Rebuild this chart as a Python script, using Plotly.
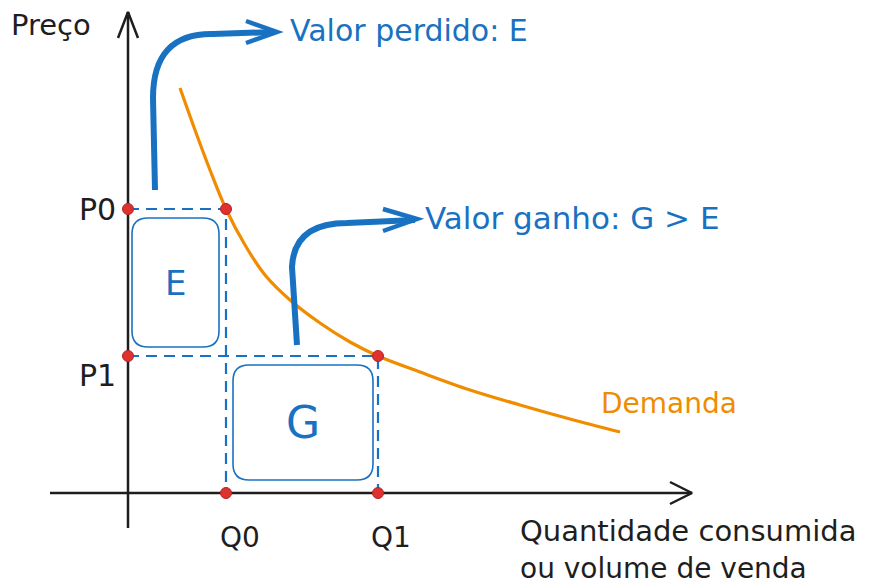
import plotly.graph_objects as go

# ---- data (origin = where the axes cross; x right, y up) ----
quant_labels = ["Q0", "Q1"]
quant_values = [98, 250]
price_labels = ["P0", "P1"]
price_values = [284, 137]

demand_q = [52, 67, 82, 98, 117, 137, 162, 192, 222, 250, 292, 342, 392, 442, 492]
demand_p = [405, 363, 323, 284, 248, 218, 193, 170, 151, 137, 121, 103, 88, 74, 61]

# area boxes: (label, x0, y0, x1, y1)
box_E = ["E", 4, 146, 91, 275]
box_G = ["G", 105, 13, 245, 128]

# axes extents
x_axis = [-78, 564]
y_axis = [-35, 481]

# callout arrows (path points) and their texts
arrow1 = [(27, 303), (25, 395), (25, 460), (85, 459), (147, 461)]
arrow1_head = [(118, 472), (149, 461), (118, 450)]
arrow2 = [(169, 148), (164, 226), (166, 270), (219, 270), (287, 273)]
arrow2_head = [(255, 284), (289, 274), (255, 262)]
callout_texts = ["Valor perdido: E", "Valor ganho: G > E"]

BLUE = "#1971c2"
ORANGE = "#f08c00"
RED = "#e03131"
BLACK = "#1e1e1e"
FONT = "DejaVu Sans"

fig = go.Figure()

# dashed guides
for q, p in zip(quant_values, price_values):
    fig.add_trace(go.Scatter(x=[0, q, q], y=[p, p, 0], mode="lines",
                             line=dict(color=BLUE, width=2.2, dash="11px,7px"),
                             hoverinfo="skip", showlegend=False))

# axes
fig.add_trace(go.Scatter(x=x_axis, y=[0, 0], mode="lines",
                         line=dict(color=BLACK, width=2.5), hoverinfo="skip", showlegend=False))
fig.add_trace(go.Scatter(x=[0, 0], y=y_axis, mode="lines",
                         line=dict(color=BLACK, width=2.5), hoverinfo="skip", showlegend=False))
fig.add_trace(go.Scatter(x=[x_axis[1] - 22, x_axis[1], x_axis[1] - 22], y=[11, 0, -11], mode="lines",
                         line=dict(color=BLACK, width=2.5), hoverinfo="skip", showlegend=False))
fig.add_trace(go.Scatter(x=[-10, 0, 10], y=[y_axis[1] - 26, y_axis[1], y_axis[1] - 26], mode="lines",
                         line=dict(color=BLACK, width=2.5), hoverinfo="skip", showlegend=False))

# demand curve
fig.add_trace(go.Scatter(x=demand_q, y=demand_p, mode="lines",
                         line=dict(color=ORANGE, width=3.2, shape="spline", smoothing=1.0),
                         hoverinfo="skip", showlegend=False))

# red points
pts_x = [0, quant_values[0], 0, quant_values[1], quant_values[0], quant_values[1]]
pts_y = [price_values[0], price_values[0], price_values[1], price_values[1], 0, 0]
fig.add_trace(go.Scatter(x=pts_x, y=pts_y, mode="markers",
                         marker=dict(color=RED, size=11, line=dict(color="#b02525", width=1)),
                         hoverinfo="skip", showlegend=False))


def rounded(x0, y0, x1, y1, r):
    return (f"M {x0+r},{y0} L {x1-r},{y0} Q {x1},{y0} {x1},{y0+r} "
            f"L {x1},{y1-r} Q {x1},{y1} {x1-r},{y1} L {x0+r},{y1} "
            f"Q {x0},{y1} {x0},{y1-r} L {x0},{y0+r} Q {x0},{y0} {x0+r},{y0} Z")


shapes = []
for b in (box_E, box_G):
    shapes.append(dict(type="path", path=rounded(b[1], b[2], b[3], b[4], 16),
                       line=dict(color=BLUE, width=1.6), xref="x", yref="y"))


def curve_path(pts):
    (a, b, c, d, e) = pts
    return (f"M {a[0]},{a[1]} L {b[0]},{b[1]} Q {c[0]},{c[1]} {d[0]},{d[1]} "
            f"L {e[0]},{e[1]}")


for pts, head in ((arrow1, arrow1_head), (arrow2, arrow2_head)):
    shapes.append(dict(type="path", path=curve_path(pts),
                       line=dict(color=BLUE, width=6), xref="x", yref="y"))
    h = head
    shapes.append(dict(type="path",
                       path=f"M {h[0][0]},{h[0][1]} L {h[1][0]},{h[1][1]} L {h[2][0]},{h[2][1]}",
                       line=dict(color=BLUE, width=4.5), xref="x", yref="y"))

ann = []


def text(x, y, s, color, size, xa="left", ya="middle"):
    ann.append(dict(x=x, y=y, text=s, showarrow=False, xanchor=xa, yanchor=ya,
                    font=dict(family=FONT, size=size, color=color), xref="x", yref="y"))


text(-119, 468, "Preço", BLACK, 29)
text(160, 463, callout_texts[0], BLUE, 30)
text(295, 275, callout_texts[1], BLUE, 31)
for lbl, p in zip(price_labels, price_values):
    text(-10, p - (0 if lbl == "P0" else 19), lbl, BLACK, 30, xa="right")
text((box_E[1] + box_E[3]) / 2, (box_E[2] + box_E[4]) / 2, box_E[0], BLUE, 34, xa="center")
text((box_G[1] + box_G[3]) / 2, (box_G[2] + box_G[4]) / 2, box_G[0], BLUE, 44, xa="center")
text(471, 90, "Demanda", ORANGE, 28)
for lbl, q, dx in zip(quant_labels, quant_values, [14, 13]):
    text(q + dx, -44, lbl, BLACK, 28, xa="center")
text(390, -38, "Quantidade consumida", BLACK, 29)
text(390, -75, "ou volume de venda", BLACK, 28)

fig.update_layout(
    width=883, height=586,
    margin=dict(l=0, r=0, t=0, b=0),
    paper_bgcolor="white", plot_bgcolor="white",
    xaxis=dict(range=[-128, 755], visible=False, fixedrange=True),
    yaxis=dict(range=[-93, 493], visible=False, fixedrange=True),
    shapes=shapes, annotations=ann,
)

fig.write_html("out.html", config={"displayModeBar": False},
               post_script="document.body.style.margin='0px';document.body.style.overflow='hidden';")
